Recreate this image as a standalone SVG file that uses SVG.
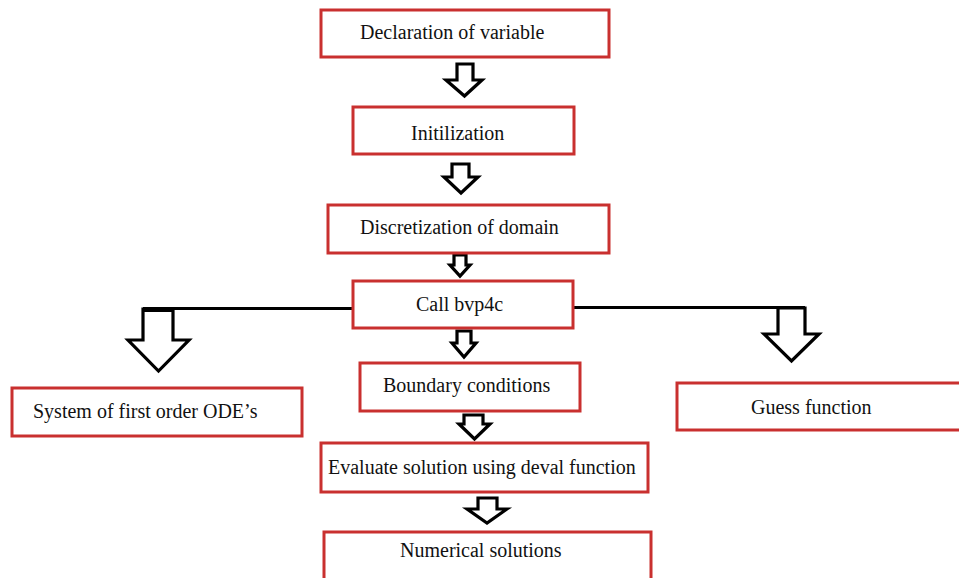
<svg xmlns="http://www.w3.org/2000/svg" width="959" height="578" viewBox="0 0 959 578">
<style>
.box{fill:#fff;stroke:#c9302f;stroke-width:3}
.lbl{font-family:"Liberation Serif","Times New Roman",serif;font-size:20px;fill:#111}
.arr{fill:#fff;stroke:#000;stroke-width:3.2;stroke-linejoin:miter}
.ln{stroke:#000;stroke-width:3.2;fill:none}
</style>
<rect width="959" height="578" fill="#fff"/>
<g id="connectors">
<polyline class="ln" points="143,308.5 353,308.5"/>
<polyline class="ln" points="573,307.5 805,307.5"/>
<polygon class="arr" points="457,64 473,64 473,80 482,80 464.5,96 446,80 457,80"/>
<polygon class="arr" points="452,164 469,164 469,177 478,177 461,193 444,177 452,177"/>
<polygon class="arr" points="454,255 466,255 466,265 470,265 460,276 450,265 454,265"/>
<polygon class="arr" points="457,331 471,331 471,343 476,343 464,357 452,343 457,343"/>
<polygon class="arr" points="464,415 483,415 483,424 490,424 474.5,439 459,424 464,424"/>
<polygon class="arr" points="478,498 497,498 497,509 507,509 487,523 467,509 478,509"/>
<polygon class="arr" points="143,309 173,309 173,340 189,340 158.5,371 128,340 143,340"/>
<rect x="143" y="307" width="30" height="5" fill="#000"/>
<polygon class="arr" points="778,308 805,308 805,334 819,334 791.5,361 764,334 778,334"/>
</g>
<g id="n1"><rect class="box" x="321" y="10" width="288" height="47"/><text class="lbl" x="360" y="39">Declaration of variable</text></g>
<g id="n2"><rect class="box" x="353" y="107" width="221" height="47"/><text class="lbl" x="411" y="140">Initilization</text></g>
<g id="n3"><rect class="box" x="328" y="205" width="281" height="48"/><text class="lbl" x="360" y="234">Discretization of domain</text></g>
<g id="n4"><rect class="box" x="353" y="281" width="220" height="47"/><text class="lbl" x="416" y="311">Call bvp4c</text></g>
<g id="n5"><rect class="box" x="12" y="388" width="290" height="48"/><text class="lbl" x="33" y="418">System of first order ODE’s</text></g>
<g id="n6"><rect class="box" x="677" y="383" width="290" height="47"/><text class="lbl" x="751" y="414">Guess function</text></g>
<g id="n7"><rect class="box" x="360" y="363" width="220" height="48"/><text class="lbl" x="383" y="392">Boundary conditions</text></g>
<g id="n8"><rect class="box" x="321" y="443" width="327" height="49"/><text class="lbl" x="328" y="474">Evaluate solution using deval function</text></g>
<g id="n9"><rect class="box" x="324" y="532" width="327" height="60"/><text class="lbl" x="400" y="557">Numerical solutions</text></g>
</svg>
